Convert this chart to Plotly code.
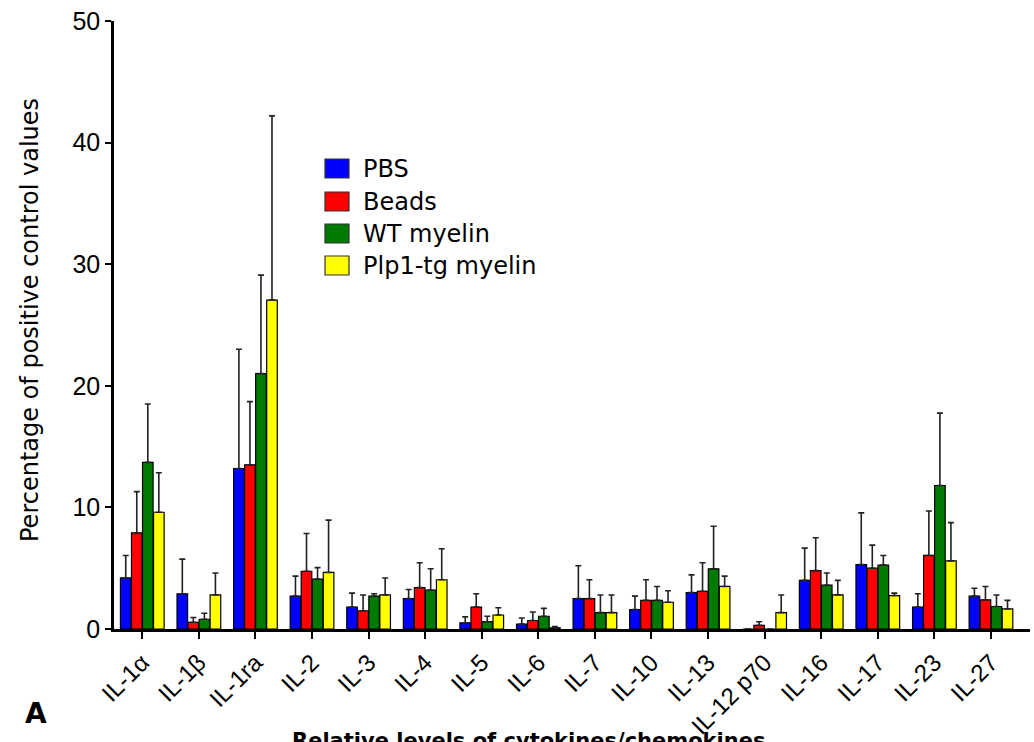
import plotly.graph_objects as go

# Cytokine / chemokine panel
cytokines = ["IL-1α", "IL-1β", "IL-1ra", "IL-2", "IL-3", "IL-4", "IL-5", "IL-6",
             "IL-7", "IL-10", "IL-13", "IL-12 p70", "IL-16", "IL-17", "IL-23", "IL-27"]

groups = ["PBS", "Beads", "WT myelin", "Plp1-tg myelin"]
colors = ["#0000ff", "#ff0000", "#007a00", "#ffff00"]

# Mean percentage of positive control values
pbs_mean = [4.2, 2.9, 13.2, 2.7, 1.8, 2.5, 0.5, 0.4, 2.5, 1.6, 3.0, 0, 4.0, 5.3, 1.8, 2.7]
beads_mean = [7.9, 0.55, 13.5, 4.75, 1.5, 3.4, 1.8, 0.7, 2.5, 2.35, 3.1, 0.3, 4.8, 5.0, 6.05, 2.4]
wt_mean = [13.7, 0.8, 21.0, 4.1, 2.7, 3.2, 0.6, 1.05, 1.35, 2.35, 4.95, 0, 3.6, 5.25, 11.8, 1.85]
plp1_mean = [9.6, 2.8, 27.05, 4.65, 2.8, 4.05, 1.15, 0.1, 1.35, 2.2, 3.5, 1.35, 2.8, 2.75, 5.6, 1.65]

# Upper error (SEM)
pbs_err = [1.85, 2.85, 9.8, 1.65, 1.15, 0.75, 0.5, 0.5, 2.7, 1.1, 1.45, 0, 2.65, 4.25, 1.1, 0.65]
beads_err = [3.4, 0.4, 5.2, 3.1, 1.3, 2.05, 1.1, 0.7, 1.55, 1.7, 2.35, 0.3, 2.7, 1.9, 3.65, 1.1]
wt_err = [4.8, 0.5, 8.1, 0.95, 0.2, 1.75, 0.45, 0.65, 1.45, 1.15, 3.5, 0, 1.0, 0.8, 5.95, 0.95]
plp1_err = [3.25, 1.8, 15.15, 4.3, 1.4, 2.55, 0.6, 0.1, 1.45, 0.95, 0.85, 1.45, 1.2, 0.2, 3.15, 0.7]

means = [pbs_mean, beads_mean, wt_mean, plp1_mean]
errs = [pbs_err, beads_err, wt_err, plp1_err]

W, H = 1034, 742
L, R, T, B = 114, 4, 21, 113
pw, ph = W - L - R, H - T - B


def px(x):
    return (x - L) / pw


def py(y):
    return (H - B - y) / ph


TICK_FONT = "Liberation Sans, Arial, sans-serif"
TEXT_FONT = "DejaVu Sans, Verdana, sans-serif"

fig = go.Figure()
for name, color, m, e in zip(groups, colors, means, errs):
    fig.add_trace(go.Bar(
        name=name, x=cytokines, y=m,
        marker=dict(color=color, line=dict(color="black", width=1.2)),
        error_y=dict(type="data", symmetric=False, array=e,
                     arrayminus=[0] * len(e), color="#222222",
                     thickness=1.6, width=3),
        showlegend=False,
    ))

# Legend drawn as swatches + labels
legend_y = [169, 202, 234, 266]
shapes = []
annotations = []
for name, color, yc in zip(groups, colors, legend_y):
    shapes.append(dict(type="rect", xref="paper", yref="paper",
                       x0=px(325), x1=px(349), y0=py(yc - 10), y1=py(yc + 9),
                       fillcolor=color, line=dict(color="#333333", width=1.2)))
    annotations.append(dict(text=name, xref="paper", yref="paper",
                            x=px(361), y=py(yc), xanchor="left", yanchor="middle",
                            showarrow=False,
                            font=dict(family=TEXT_FONT, size=24, color="black")))

annotations.append(dict(text="Percentage of positive control values",
                        xref="paper", yref="paper", x=px(30), y=py(320),
                        textangle=-90, showarrow=False,
                        xanchor="center", yanchor="middle",
                        font=dict(family=TEXT_FONT, size=24, color="black")))
annotations.append(dict(text="<b>A</b>", xref="paper", yref="paper",
                        x=px(36), y=py(713), showarrow=False,
                        xanchor="center", yanchor="middle",
                        font=dict(family=TEXT_FONT, size=28, color="black")))
annotations.append(dict(text="<b>Relative levels of cytokines/chemokines</b>",
                        xref="paper", yref="paper", x=px(528), y=py(727),
                        showarrow=False, xanchor="center", yanchor="top",
                        font=dict(family=TEXT_FONT, size=21, color="black")))

fig.update_layout(
    width=W, height=H,
    margin=dict(l=L, r=R, t=T, b=B, autoexpand=False),
    paper_bgcolor="white", plot_bgcolor="white",
    barmode="group", bargap=0.22, bargroupgap=0.04,
    shapes=shapes, annotations=annotations,
    xaxis=dict(range=[-0.5, 15.69], showline=True, linecolor="black", linewidth=3,
               ticks="outside", ticklen=7, tickwidth=2, tickcolor="black",
               tickangle=-45, showgrid=False, zeroline=False, automargin=False,
               tickfont=dict(family=TICK_FONT, size=24, color="black")),
    yaxis=dict(range=[0, 50], dtick=10, showline=True, linecolor="black",
               linewidth=2.5, ticks="outside", ticklen=6, tickwidth=2,
               tickcolor="black", showgrid=False, zeroline=False, automargin=False,
               tickfont=dict(family=TICK_FONT, size=25, color="black")),
)

fig.write_html("out.html")
